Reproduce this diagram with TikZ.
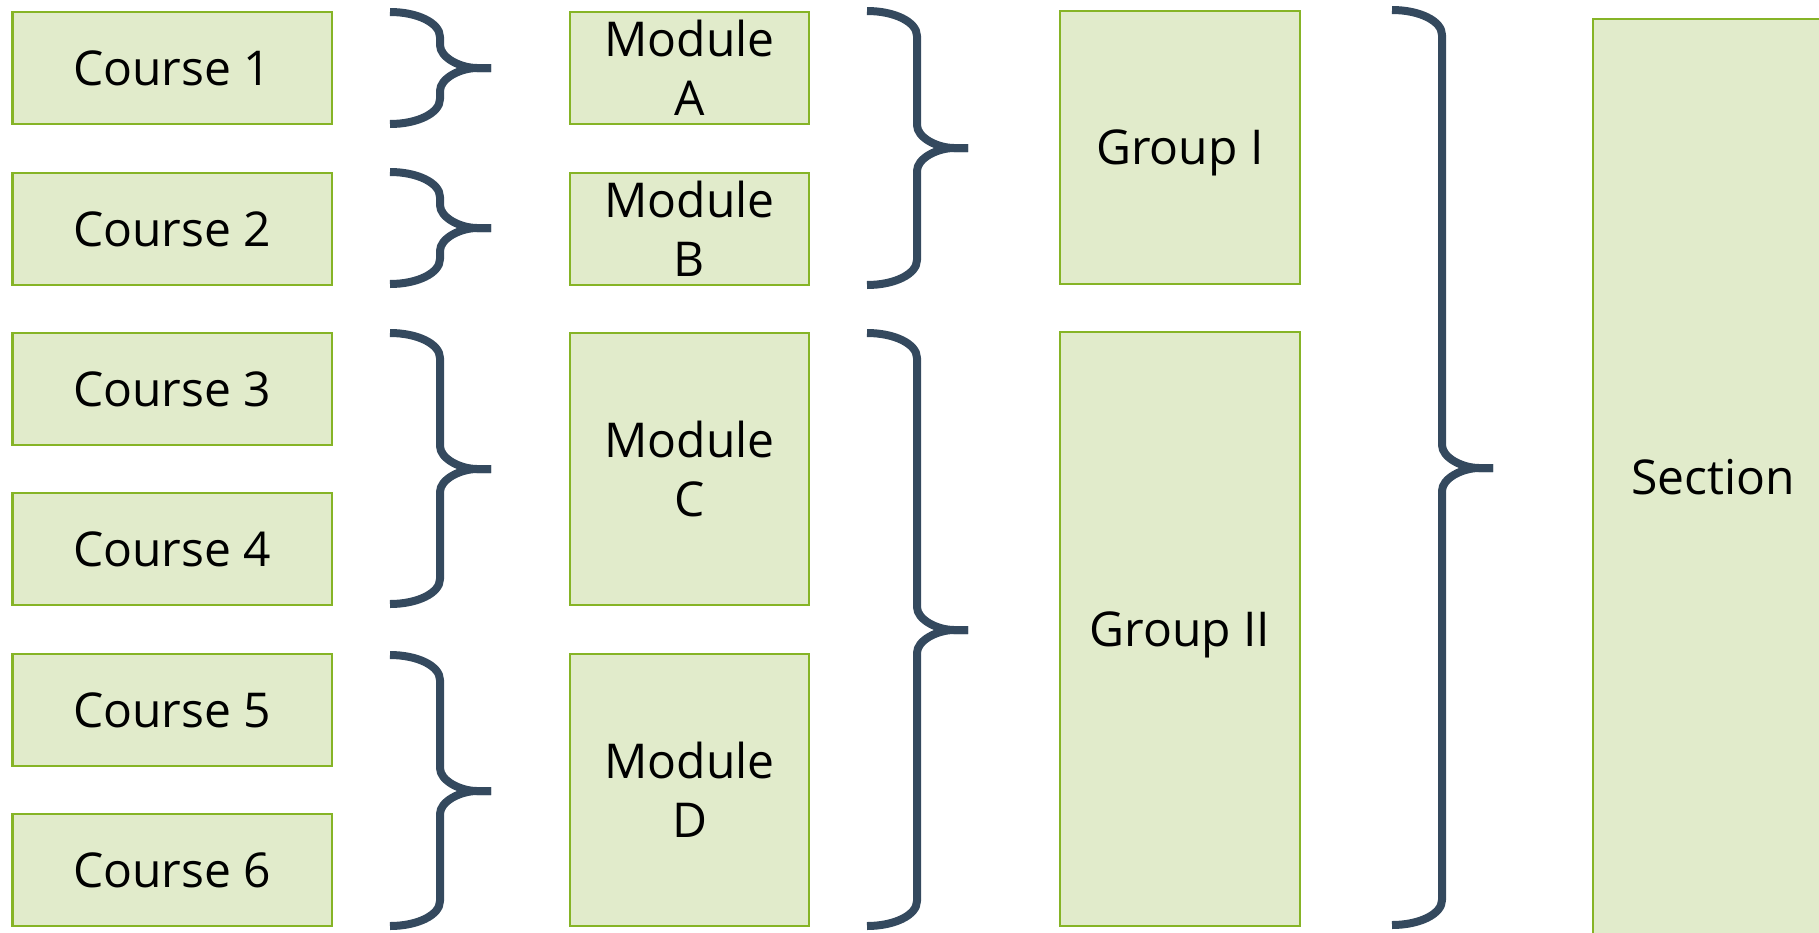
\documentclass[tikz,border=0pt]{standalone}
\usepackage{fontspec}
\setmainfont{Open Sans}
\definecolor{boxfill}{RGB}{225,235,203}
\definecolor{boxline}{RGB}{134,180,38}
\definecolor{bracecol}{RGB}{52,73,94}
\tikzset{
  boxst/.style={draw=boxline, fill=boxfill, line width=1.2pt, rectangle, inner sep=0pt, outer sep=0pt,
    align=center, font=\fontsize{24}{29.5}\selectfont, text=black},
  bracest/.style={draw=bracecol, line width=4pt, line cap=butt, line join=round}
}
% box: name, x1, y1, x2, y2, text, extra options
\newcommand\mybx[7][]{%
  \node[boxst, minimum width={(#5-#3)*0.5pt}, minimum height={(#6-#4)*0.5pt}, #1] (#2)
    at ({(#3+#5)/2},{(#4+#6)/2}) {#7};}
% brace: x0 (ends), ytop, ybot, ymid ; spine at x0+50, tip at x0+101
\newcommand\mybrace[4]{%
  \pgfmathsetmacro\xs{#1+50}\pgfmathsetmacro\xt{#1+101}%
  \pgfmathsetmacro\xa{#1+87}%
  \draw[bracest] (#1,#2) .. controls ({#1+27.6},#2) and (\xs,{#2+11}) .. (\xs,{#2+25})
     -- (\xs,{#4-23}) .. controls (\xs,{#4-10.3}) and ({\xa-16.6},#4) .. (\xa,#4) -- (\xt,#4);
  \draw[bracest] (#1,#3) .. controls ({#1+27.6},#3) and (\xs,{#3-11}) .. (\xs,{#3-25})
     -- (\xs,{#4+23}) .. controls (\xs,{#4+10.3}) and ({\xa-16.6},#4) .. (\xa,#4) -- (\xt,#4);
}
\begin{document}
\begin{tikzpicture}[x=0.5pt,y=-0.5pt]
\useasboundingbox (0,0) rectangle (1819,932);
% courses
\mybx{c1}{12.5}{12}{332}{124}{Course 1}
\mybx{c2}{12.5}{173}{332}{285}{Course 2}
\mybx{c3}{12.5}{333}{332}{445}{Course 3}
\mybx{c4}{12.5}{493}{332}{605}{Course 4}
\mybx{c5}{12.5}{654}{332}{766}{Course 5}
\mybx{c6}{12.5}{814}{332}{926}{Course 6}
% modules
\mybx{ma}{570}{12}{809}{124}{Module\\A}
\mybx{mb}{570}{173}{809}{285}{Module\\B}
\mybx{mc}{570}{333}{809}{605}{Module\\C}
\mybx{md}{570}{654}{809}{926}{Module\\D}
% groups
\mybx[text depth=0pt]{g1}{1060}{11}{1300}{284}{Group I}
\mybx[text depth=0pt]{g2}{1060}{332}{1300}{926}{Group II}
% section
\mybx{sec}{1593}{19}{1833}{935}{Section}
% braces
\mybrace{390}{12}{124}{68}
\mybrace{390}{172}{284}{228}
\mybrace{390}{333}{604}{469}
\mybrace{390}{655}{926}{791}
\mybrace{867}{11}{285}{148}
\mybrace{867}{333}{926}{630}
\mybrace{1392}{10}{925}{468}
\end{tikzpicture}
\end{document}
